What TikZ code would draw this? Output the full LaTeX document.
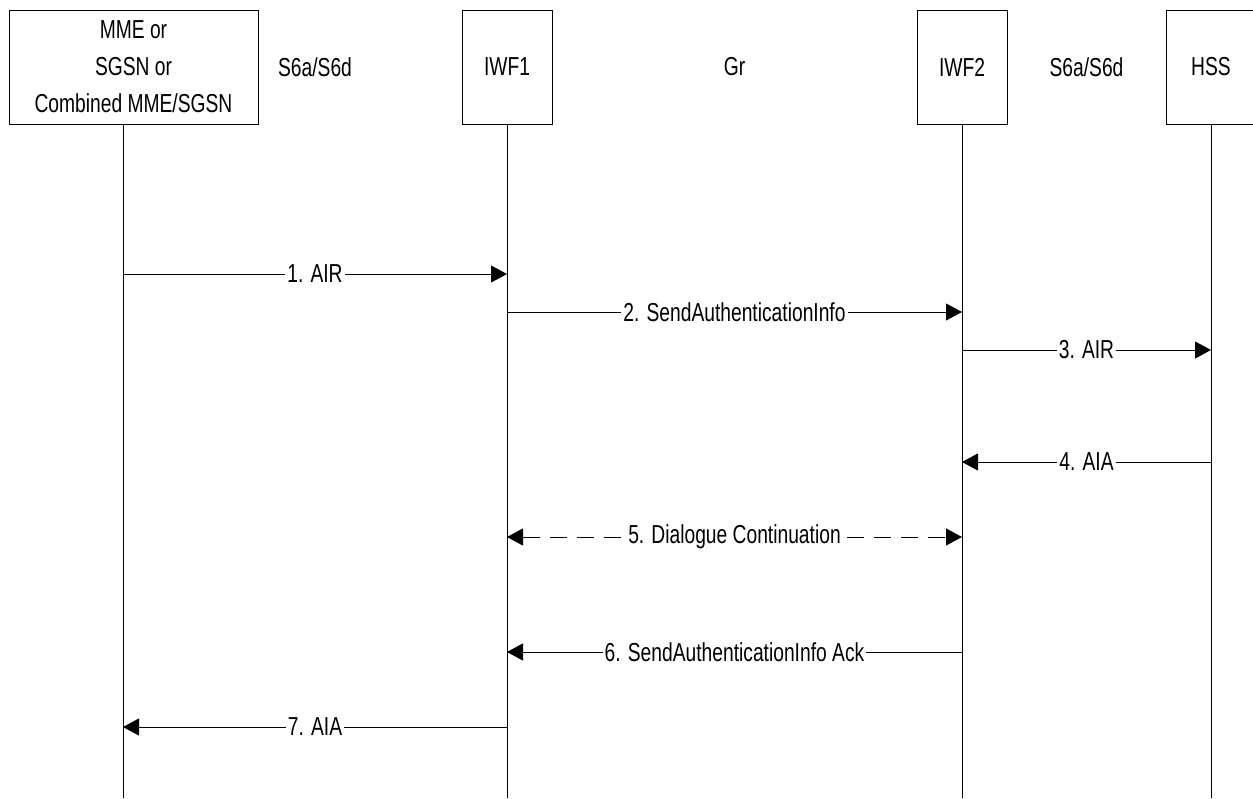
\documentclass[tikz,border=0pt]{standalone}
\usepackage{fontspec}
\setmainfont{Liberation Sans}[FakeStretch=0.74]
\usetikzlibrary{arrows.meta}
\tikzset{
  entity/.style={draw, line width=0.5pt, minimum height=57pt, align=center,
    font=\fontsize{13}{18.5}\selectfont},
  iface/.style={font=\fontsize{13}{15}\selectfont},
  msglabel/.style={fill=white, inner sep=1pt, font=\fontsize{13}{15}\selectfont}
}
\begin{document}
\begin{tikzpicture}[x=0.5pt,y=-0.5pt]
      \useasboundingbox (0,0) rectangle (1253,798);
      \begin{scope}[every node/.style={entity}]
        \node[minimum width=124.5pt] (mme) at (133.5,67) {MME or\\SGSN or\\Combined MME/SGSN};
        \node[minimum width=45pt] (iwf1) at (507,67) {IWF1};
        \node[minimum width=45pt] (iwf2) at (962,67) {IWF2};
        \node[minimum width=45pt] (hss) at (1211,67) {HSS};
      \end{scope}
      \begin{scope}[every node/.style={iface}]
        \node (if_1) at (315,67) {S6a/S6d};
        \node (if_2) at (734.5,67) {Gr};
        \node (if_3) at (1086.5,67) {S6a/S6d};
      \end{scope}
      % lifelines
      \coordinate (e_mme) at (123,798);
      \coordinate (e_iwf1) at (507,798);
      \coordinate (e_iwf2) at (962,798);
      \coordinate (e_hss) at (1211,798);
      \begin{scope}[line width=0.5pt]
        \draw (mme.south -| e_mme) -- (e_mme);
        \draw (iwf1.south) -- (e_iwf1);
        \draw (iwf2.south) -- (e_iwf2);
        \draw (hss.south) -- (e_hss);
      \end{scope}
      % message levels
      \coordinate (t_1) at (0,274);
      \coordinate (t_2) at (0,312);
      \coordinate (t_3) at (0,350);
      \coordinate (t_4) at (0,462);
      \coordinate (t_5) at (0,537);
      \coordinate (t_6) at (0,652);
      \coordinate (t_7) at (0,727);
      \begin{scope}[every edge/.style={draw=black,line width=0.5pt,-{Triangle[length=8pt,width=8.5pt]}}]
        \path (e_mme |- t_1) edge node[msglabel] {1. AIR} (e_iwf1 |- t_1);
        \path (e_iwf1 |- t_2) edge node[msglabel] {2. SendAuthenticationInfo} (e_iwf2 |- t_2);
        \path (e_iwf2 |- t_3) edge node[msglabel] {3. AIR} (e_hss |- t_3);
        \path (e_hss |- t_4) edge node[msglabel] {4. AIA} (e_iwf2 |- t_4);
        \path (e_iwf2 |- t_6) edge node[msglabel] {6. SendAuthenticationInfo Ack} (e_iwf1 |- t_6);
        \path (e_iwf1 |- t_7) edge node[msglabel] {7. AIA} (e_mme |- t_7);
      \end{scope}
      \begin{scope}[every edge/.style={draw=black,line width=0.5pt,{Triangle[length=8pt,width=8.5pt]}-{Triangle[length=8pt,width=8.5pt]},dash pattern=on 8.5pt off 5pt}]
        \path (e_iwf1 |- t_5) edge node[msglabel] {5. Dialogue Continuation} (e_iwf2 |- t_5);
      \end{scope}
    \end{tikzpicture}
\end{document}
